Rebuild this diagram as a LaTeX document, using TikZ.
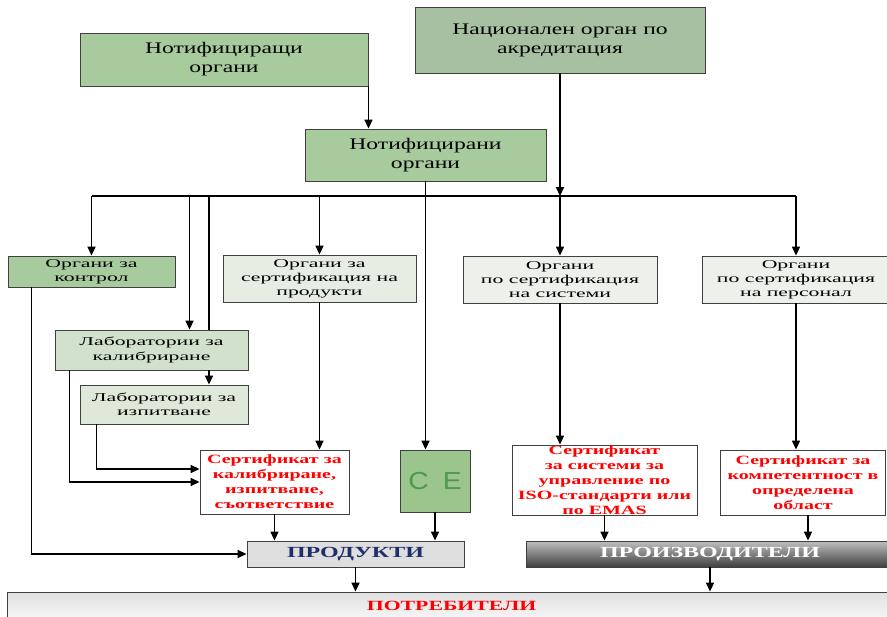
\documentclass[tikz,border=0pt]{standalone}
\usepackage{fontspec}
\setmainfont{Liberation Serif}[FakeStretch=1.46]
\newfontfamily\wideserif{Liberation Serif}[FakeStretch=1.82]
\newfontfamily\certserif{Liberation Serif}[FakeStretch=1.58]
\newfontfamily\barserif{Liberation Serif}[FakeStretch=1.55]
\newfontfamily\cefont{Liberation Sans}[FakeStretch=1.15]
\usetikzlibrary{arrows.meta,calc}

\definecolor{midgreen}{HTML}{A8CB9E}
\definecolor{natgreen}{HTML}{A6C0A1}
\definecolor{labgreen}{HTML}{D2E1CB}
\definecolor{testgreen}{HTML}{DFE9D9}
\definecolor{palegreen}{HTML}{E6EDE2}
\definecolor{palegrey}{HTML}{EEF0EC}
\definecolor{cegreen}{HTML}{9CC58E}
\definecolor{cetext}{HTML}{4C9A4C}
\definecolor{prodblue}{HTML}{1F2F6B}
\definecolor{boxline}{HTML}{404040}

\begin{document}
\begin{tikzpicture}[->,>={Triangle[length=2.2mm,width=2mm]},line width=0.95pt,
    box/.style={rectangle,draw=boxline,line width=0.7pt,align=center,inner sep=0pt,
                font=\wideserif\fontsize{8.5}{10}\selectfont},
    bigbox/.style={box,font=\rmfamily\fontsize{11.5}{13.5}\selectfont},
    certbox/.style={box,fill=white,text=red,
                    font=\certserif\bfseries\fontsize{9}{10.6}\selectfont},
    barbox/.style={box,minimum height=0.65cm,
                   font=\barserif\bfseries\fontsize{11}{12}\selectfont}]

  \useasboundingbox (0,0) rectangle (22.175,-15.425);

  % top level
  \node[bigbox,fill=midgreen,minimum width=7.2cm,minimum height=1.325cm]
        (nfa)  at (5.6,-1.4875)    {Нотифициращи\\органи};
  \node[bigbox,fill=natgreen,minimum width=7.25cm,minimum height=1.65cm]
        (nab)  at (14.0,-1.0)      {Национален орган по\\акредитация};
  \node[bigbox,fill=midgreen,minimum width=6.025cm,minimum height=1.3cm]
        (nfb)  at (10.6375,-3.875) {Нотифицирани\\органи};
  \coordinate (bus) at (0,-4.9);

  % bodies
  \node[box,fill=midgreen,minimum width=4.175cm,minimum height=0.775cm]
        (ctrl)  at (2.2875,-6.7875)  {Органи за\\контрол};
  \node[box,fill=palegreen,minimum width=4.825cm,minimum height=1.175cm]
        (opc)   at (7.9875,-6.9625)  {Органи за\\сертификация на\\продукти};
  \node[box,fill=palegrey,minimum width=4.85cm,minimum height=1.175cm]
        (osc)   at (14.0,-6.9875)    {Органи\\по сертификация\\на системи};
  \node[box,fill=palegrey,minimum width=4.7cm,minimum height=1.175cm]
        (opers) at (19.9,-6.9875)    {Органи\\по сертификация\\на персонал};
  \node[box,fill=labgreen,minimum width=4.825cm,minimum height=1.0cm]
        (labcal)  at (3.7875,-8.75)  {Лаборатории за\\калибриране};
  \node[box,fill=testgreen,minimum width=4.2cm,minimum height=0.975cm]
        (labtest) at (4.1,-10.1125)  {Лаборатории за\\изпитване};

  % certificates
  \node[certbox,minimum width=3.725cm,minimum height=1.6cm]
        (certcal)  at (6.8625,-12.05) {Сертификат за\\калибриране,\\изпитване,\\съответствие};
  \node[box,fill=cegreen,text=cetext,minimum width=1.75cm,minimum height=1.55cm,
        font=\cefont\fontsize{17.5}{17.5}\selectfont]
        (ce)       at (10.875,-12.025) {C\hspace{10pt}E};
  \node[certbox,minimum width=4.625cm,minimum height=1.75cm]
        (certsys)  at (15.1125,-12.0) {Сертификат\\за системи за\\управление по\\ISO-стандарти или\\по EMAS};
  \node[certbox,minimum width=4.125cm,minimum height=1.625cm]
        (certpers) at (20.075,-12.0625) {Сертификат за\\компетентност в\\определена\\област};

  % bottom bars
  \node[barbox,fill=black!13,text=prodblue,minimum width=5.425cm]
        (prod)  at (8.8875,-13.85) {ПРОДУКТИ};
  \node[barbox,top color=black!25,bottom color=black!75,text=white,minimum width=9.2cm]
        (manuf) at (17.75,-13.85)  {ПРОИЗВОДИТЕЛИ};
  \node[barbox,top color=black!12,bottom color=white,minimum width=22.2cm,minimum height=0.95cm,
        label={[text=red,font=\barserif\bfseries\fontsize{10}{12}\selectfont,yshift=0.125cm]center:ПОТРЕБИТЕЛИ}]
        (cons)  at (11.29,-15.275) {};

  % connectors
  \draw (nfa.south east) -- (nfa.south east |- nfb.north);
  \draw (nab.south) -- (nab.south |- bus);
  \draw[-] (ctrl.north |- bus) -- (opers.north |- bus);
  \draw (ctrl.north |- bus) -- (ctrl.north);
  \draw (opc.north |- bus) -- (opc.north);
  \draw (osc.north |- bus) -- (osc.north);
  \draw (opers.north |- bus) -- (opers.north);
  \draw ([xshift=3.375cm]labcal.north west |- bus) -- ([xshift=3.375cm]labcal.north west);
  \draw[-] ([xshift=1.125cm]labtest.north |- bus) -- ([xshift=1.125cm]labtest.north |- labcal.north);
  \draw ([xshift=1.125cm]labtest.north |- labcal.south) -- ([xshift=1.125cm]labtest.north);
  \draw (nfb.south) -- (nfb.south |- ce.north);

  \draw (opc.south) -- (opc.south |- certcal.north);
  \draw (osc.south) -- (osc.south |- certsys.north);
  \draw (opers.south) -- (opers.south |- certpers.north);
  \draw ([xshift=0.375cm]labcal.south west) |- (certcal.west);
  \draw ([xshift=0.425cm]labtest.south west) |- ([yshift=0.325cm]certcal.west);
  \draw ([xshift=0.6cm]ctrl.south west) |- (prod.west);

  \draw (certcal.south) -- (certcal.south |- prod.north);
  \draw (ce.south) -- (ce.south |- prod.north);
  \draw (certsys.south) -- (certsys.south |- manuf.north);
  \draw ([xshift=0.125cm]certpers.south) -- ([xshift=0.125cm]certpers.south |- manuf.north);
  \draw (prod.south) -- (prod.south |- cons.north);
  \draw (manuf.south) -- (manuf.south |- cons.north);
\end{tikzpicture}
\end{document}
